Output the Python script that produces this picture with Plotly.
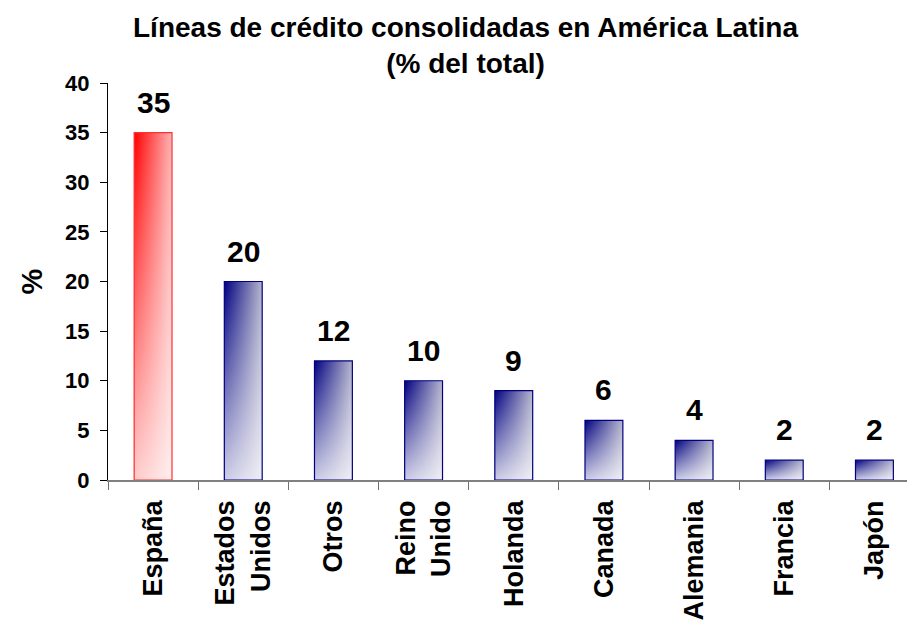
import plotly.graph_objects as go

# data
categories = ["España", "Estados<br>Unidos", "Otros", "Reino<br>Unido", "Holanda",
              "Canada", "Alemania", "Francia", "Japón"]
values = [35, 20, 12, 10, 9, 6, 4, 2, 2]
is_spain = [True] + [False] * 8

FONT = "Liberation Sans, Arial, sans-serif"
BAR_WIDTH = 0.42
X_RANGE = [-0.5, 8.45]

fig = go.Figure()

# gradient fills (drawn on a hidden numeric axis under the bars)
for i, v in enumerate(values):
    half = BAR_WIDTH / 2
    xs = [i - half, i + half, i + half, i - half, i - half]
    ys = [0, 0, v, v, 0]
    if is_spain[i]:
        left, right = "#ff0000", "#ffb4b4"
    else:
        left, right = "#000080", "#b4b4cc"
    fig.add_trace(go.Scatter(
        x=xs, y=ys, mode="lines", fill="toself", line=dict(width=0),
        fillgradient=dict(type="horizontal", colorscale=[[0, left], [1, right]]),
        hoverinfo="skip", showlegend=False,
    ))
    fig.add_trace(go.Scatter(
        x=xs, y=ys, mode="lines", fill="toself", line=dict(width=0),
        fillgradient=dict(type="vertical",
                          colorscale=[[0, "rgba(255,255,255,0.8)"],
                                      [1, "rgba(255,255,255,0)"]]),
        hoverinfo="skip", showlegend=False,
    ))

# the bars themselves (outline only), on the category axis
fig.add_trace(go.Bar(
    x=categories, y=values, xaxis="x2", yaxis="y", width=BAR_WIDTH,
    marker=dict(color="rgba(0,0,0,0)",
                line=dict(color=["#ff3030" if s else "#000080" for s in is_spain], width=1.2)),
    showlegend=False,
))

for c, v in zip(categories, values):
    fig.add_annotation(
        x=c, y=v, xref="x2", yref="y", text=str(v), showarrow=False,
        yanchor="bottom", yshift=12,
        font=dict(family=FONT, size=30, color="black", weight="bold"),
    )

fig.update_layout(
    width=915, height=620,
    margin=dict(l=100, r=8, t=75, b=148, autoexpand=False),
    paper_bgcolor="white", plot_bgcolor="white",
    title=dict(
        text="Líneas de crédito consolidadas en América Latina<br>(% del total)",
        x=0.5, xref="container", xanchor="center",
        y=1 - 29 / 620, yref="container", yanchor="middle",
        font=dict(family=FONT, size=28, color="black", weight="bold"),
    ),
    xaxis=dict(range=X_RANGE, visible=False, fixedrange=True),
    xaxis2=dict(
        overlaying="x", side="bottom", anchor="y", type="category",
        range=X_RANGE, tickson="boundaries", ticks="outside", ticklen=8,
        tickcolor="#707070", showline=True, linecolor="#808080", linewidth=1.5,
        tickangle=-90, showgrid=False, automargin=False, ticklabelstandoff=8,
        tickfont=dict(family=FONT, size=27, color="black", weight="bold"),
    ),
    yaxis=dict(
        range=[0, 40], dtick=5, ticks="outside", ticklen=7, tickcolor="black",
        showline=True, linecolor="black", showgrid=False, zeroline=False,
        automargin=False, ticklabelstandoff=6,
        tickfont=dict(family=FONT, size=22, color="black", weight="bold"),
        title=dict(text="%", standoff=13,
                   font=dict(family=FONT, size=29, color="black", weight="bold")),
    ),
)

fig.write_html("out.html")
